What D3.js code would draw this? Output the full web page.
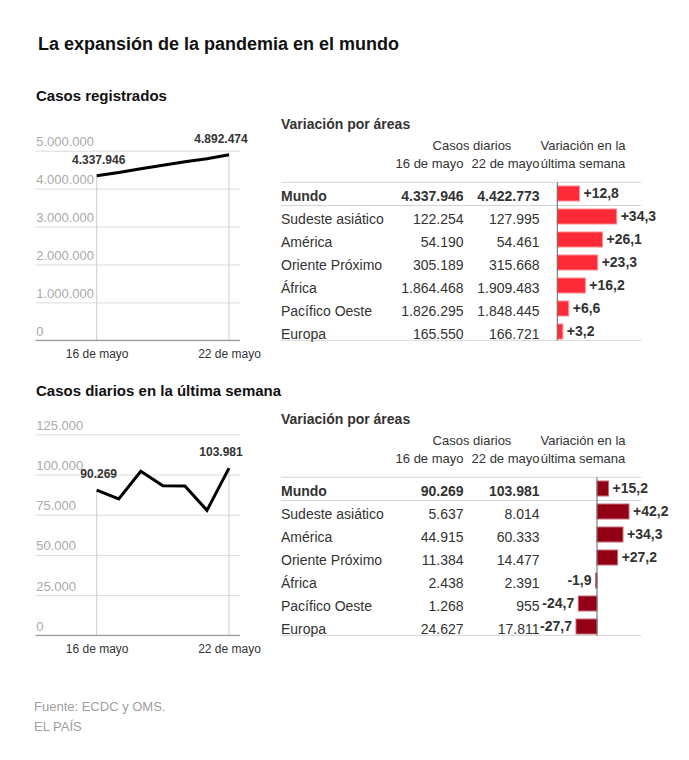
<!DOCTYPE html>
<html>
<head>
<meta charset="utf-8">
<script src="https://cdn.jsdelivr.net/npm/d3@7"></script>
<style>
  body { margin: 0; background: #fff; }
  svg { display: block; font-family: Arial, 'Liberation Sans', sans-serif; }
</style>
</head>
<body>
<div id="chart"></div>
<script>
// ---------------------------------------------
// Data (read off the original graphic)
// ---------------------------------------------
const dates = ['16 de mayo', '17 de mayo', '18 de mayo', '19 de mayo', '20 de mayo', '21 de mayo', '22 de mayo'];
const casosRegistrados = [4337946, 4422773, 4524773, 4617773, 4710673, 4788373, 4892474];
const casosDiarios = [90269, 84827, 102000, 93000, 92900, 77700, 103981];

const ticksRegistrados = [0, 1000000, 2000000, 3000000, 4000000, 5000000];
const ticksDiarios = [0, 25000, 50000, 75000, 100000, 125000];

const areas = ['Mundo', 'Sudeste asiático', 'América', 'Oriente Próximo', 'África', 'Pacífico Oeste', 'Europa'];

const registrados16 = [4337946, 122254, 54190, 305189, 1864468, 1826295, 165550];
const registrados22 = [4422773, 127995, 54461, 315668, 1909483, 1848445, 166721];
const variacionRegistrados = [12.8, 34.3, 26.1, 23.3, 16.2, 6.6, 3.2];

const diarios16 = [90269, 5637, 44915, 11384, 2438, 1268, 24627];
const diarios22 = [103981, 8014, 60333, 14477, 2391, 955, 17811];
const variacionDiarios = [15.2, 42.2, 34.3, 27.2, -1.9, -24.7, -27.7];

// Spanish number format: 4.337.946 / +12,8
const es = d3.formatLocale({ decimal: ',', thousands: '.', grouping: [3], currency: ['', ' €'], minus: '-' });
const fmtInt = es.format(',d');
const fmtVar = es.format('+.1f');

const W = 689, H = 760;
const svg = d3.select('#chart').append('svg')
  .attr('width', W)
  .attr('height', H);

// Main title
svg.append('text')
  .attr('x', 38).attr('y', 50)
  .attr('font-size', 18).attr('font-weight', 'bold').attr('fill', '#111')
  .text('La expansión de la pandemia en el mundo');

//-------------------------------------
// Line chart with first/last labels
//-------------------------------------
function drawLine(offset, title, values, ticks, maxTick, topY) {
  const g = svg.append('g').attr('transform', 'translate(0,' + offset + ')');

  g.append('text')
    .attr('x', 36).attr('y', 101)
    .attr('font-size', 15).attr('font-weight', 'bold').attr('fill', '#111')
    .text(title);

  const x = d3.scalePoint().domain(dates).range([96.7, 229]);
  const y = d3.scaleLinear().domain([0, maxTick]).range([340.3, topY]);
  const left = 35.7, right = 240;

  // Gridlines and tick labels
  const yAxis = g.append('g')
    .attr('transform', 'translate(' + left + ',0)')
    .call(d3.axisRight(y).tickValues(ticks).tickSize(right - left).tickFormat(fmtInt));
  yAxis.select('.domain').remove();
  yAxis.selectAll('.tick line').attr('stroke', '#dcdcdc');
  yAxis.selectAll('.tick text')
    .attr('x', 0.5).attr('dy', -5)
    .attr('text-anchor', 'start')
    .attr('font-size', 13).attr('fill', '#aaa')
    .attr('font-family', null);

  // Drop lines for first and last days
  const ends = [0, values.length - 1];
  g.selectAll('.drop')
    .data(ends)
    .enter().append('line')
    .attr('class', 'drop')
    .attr('x1', i => x(dates[i])).attr('x2', i => x(dates[i]))
    .attr('y1', i => y(values[i])).attr('y2', y(0))
    .attr('stroke', '#ccc');

  // Baseline
  g.append('line')
    .attr('x1', left).attr('x2', right)
    .attr('y1', y(0)).attr('y2', y(0))
    .attr('stroke', '#888');

  // X axis labels
  const xAxis = g.append('g')
    .attr('transform', 'translate(0,' + y(0) + ')')
    .call(d3.axisBottom(x).tickValues([dates[0], dates[dates.length - 1]]).tickSize(0));
  xAxis.select('.domain').remove();
  xAxis.selectAll('.tick text')
    .attr('y', 18).attr('dy', 0)
    .attr('font-size', 12).attr('fill', '#333')
    .attr('font-family', null);

  // The line
  const line = d3.line()
    .x((d, i) => x(dates[i]))
    .y(d => y(d));
  g.append('path')
    .datum(values)
    .attr('d', line)
    .attr('fill', 'none')
    .attr('stroke', '#000')
    .attr('stroke-width', 3);

  // Value labels
  g.selectAll('.vlabel')
    .data(ends)
    .enter().append('text')
    .attr('class', 'vlabel')
    .attr('x', i => x(dates[i]) + (i === 0 ? 2 : -8))
    .attr('y', i => y(values[i]) - 12)
    .attr('text-anchor', 'middle')
    .attr('font-size', 12).attr('font-weight', 'bold').attr('fill', '#333')
    .text(i => fmtInt(values[i]));
}

//-------------------------------------
// Table with variation bars
//-------------------------------------
function drawTable(offset, v16, v22, variation, color, stroke, barRange) {
  const g = svg.append('g').attr('transform', 'translate(0,' + offset + ')');
  const tableLeft = 281, tableRight = 641;

  g.append('text')
    .attr('x', tableLeft).attr('y', 129)
    .attr('font-size', 14).attr('font-weight', 'bold').attr('fill', '#333')
    .text('Variación por áreas');

  // Column headers
  const head = [
    { t: 'Casos diarios', x: 472, y: 149.5, a: 'middle' },
    { t: 'Variación en la', x: 583, y: 149.5, a: 'middle' },
    { t: '16 de mayo', x: 463.5, y: 167.5, a: 'end' },
    { t: '22 de mayo', x: 539.5, y: 167.5, a: 'end' },
    { t: 'última semana', x: 583, y: 167.5, a: 'middle' }
  ];
  g.selectAll('.head')
    .data(head)
    .enter().append('text')
    .attr('class', 'head')
    .attr('x', d => d.x).attr('y', d => d.y)
    .attr('text-anchor', d => d.a)
    .attr('font-size', 13).attr('fill', '#333')
    .text(d => d.t);

  const row = d3.scalePoint().domain(areas).range([200.5, 338.5]);
  const bx = d3.scaleLinear().domain(barRange.domain).range(barRange.range);

  // Rules
  [182.3, 205.5, 340.3].forEach(yy => {
    g.append('line')
      .attr('x1', tableLeft).attr('x2', tableRight)
      .attr('y1', yy).attr('y2', yy)
      .attr('stroke', '#d4d4d4');
  });

  const rows = g.selectAll('.row')
    .data(areas)
    .enter().append('g')
    .attr('class', 'row')
    .attr('transform', d => 'translate(0,' + row(d) + ')')
    .attr('font-size', 14).attr('fill', '#333')
    .attr('font-weight', (d, i) => i === 0 ? 'bold' : 'normal');

  rows.append('text').attr('x', tableLeft).text(d => d);
  rows.append('text').attr('x', 463.5).attr('text-anchor', 'end').text((d, i) => fmtInt(v16[i]));
  rows.append('text').attr('x', 539.5).attr('text-anchor', 'end').text((d, i) => fmtInt(v22[i]));

  rows.append('rect')
    .attr('x', (d, i) => Math.min(bx(0), bx(variation[i])))
    .attr('y', -14.5)
    .attr('width', (d, i) => Math.abs(bx(variation[i]) - bx(0)))
    .attr('height', 15)
    .attr('fill', color)
    .attr('stroke', stroke)
    .attr('stroke-width', 1);

  rows.append('text')
    .attr('x', (d, i) => variation[i] >= 0 ? bx(variation[i]) + 4 : bx(variation[i]) - 4)
    .attr('y', -3)
    .attr('text-anchor', (d, i) => variation[i] >= 0 ? 'start' : 'end')
    .attr('font-weight', 'bold')
    .text((d, i) => fmtVar(variation[i]));

  // Zero axis
  g.append('line')
    .attr('x1', bx(0)).attr('x2', bx(0))
    .attr('y1', 182.3).attr('y2', 340.7)
    .attr('stroke', '#666');
}

drawLine(0, 'Casos registrados', casosRegistrados, ticksRegistrados, 5000000, 150.7);
drawTable(0, registrados16, registrados22, variacionRegistrados, '#fd2a37', '#ff8a92',
  { domain: [0, d3.max(variacionRegistrados)], range: [557.3, 616.7] });

drawLine(295, 'Casos diarios en la última semana', casosDiarios, ticksDiarios, 125000, 139.3);
drawTable(295, diarios16, diarios22, variacionDiarios, '#930016', '#c46a76',
  { domain: [d3.min(variacionDiarios), d3.max(variacionDiarios)], range: [576, 629] });

// Footer
svg.append('text')
  .attr('x', 34).attr('y', 711)
  .attr('font-size', 13).attr('fill', '#a0a0a0')
  .text('Fuente: ECDC y OMS.');
svg.append('text')
  .attr('x', 34).attr('y', 731)
  .attr('font-size', 13).attr('fill', '#a0a0a0')
  .text('EL PAÍS');
</script>
</body>
</html>
